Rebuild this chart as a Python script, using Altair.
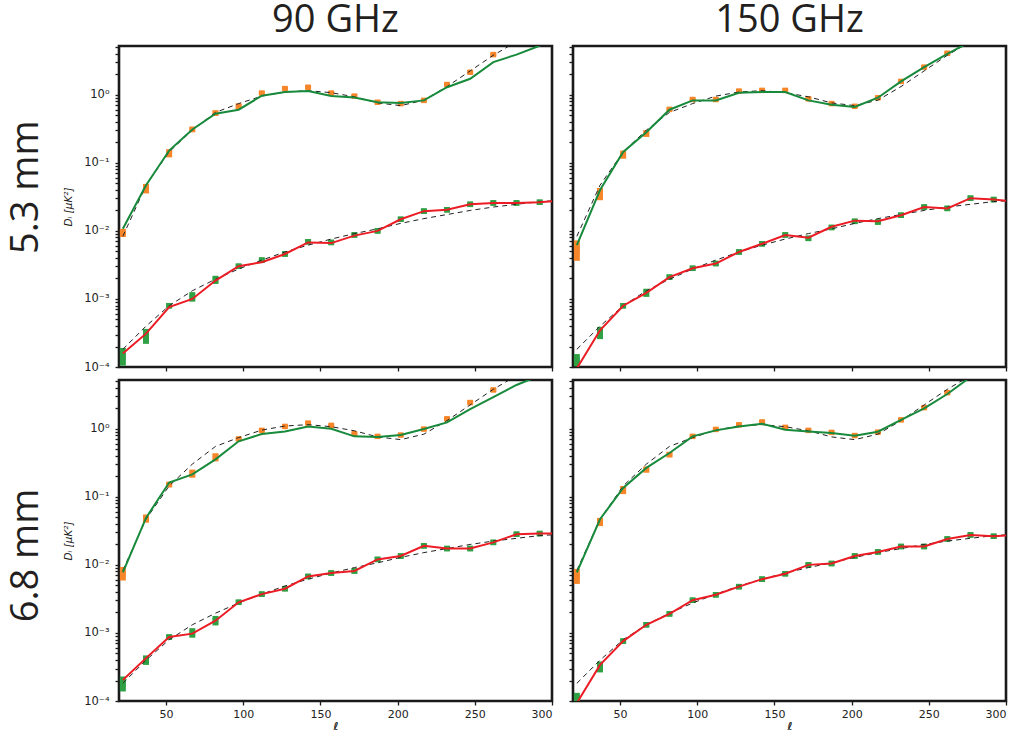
import altair as alt
import pandas as pd

# multipole bin centres
ell = [22, 37, 52, 67, 82, 97, 112, 127, 142, 157, 172, 187, 202, 217, 232, 247, 262, 277, 292]
ell_ext = ell + [307]

col_titles = ["90 GHz", "150 GHz"]
row_titles = ["5.3 mm", "6.8 mm"]

# theory curves (log10 of D_ell), dashed
theory_upper = [-2.08, -1.33, -0.84, -0.52, -0.26, -0.13, -0.02, 0.04, 0.06, 0.03, -0.03, -0.12, -0.16, -0.08, 0.12, 0.35, 0.58, 0.78, 0.98]
theory_lower = [-3.74, -3.4, -3.1, -2.88, -2.71, -2.56, -2.43, -2.31, -2.21, -2.12, -2.04, -1.97, -1.89, -1.82, -1.76, -1.70, -1.65, -1.61, -1.57, -1.55]

# ---- 5.3 mm, 90 GHz
tl_up_pts = [-2.03, -1.38, -0.86, -0.51, -0.27, -0.17, 0.025, 0.09, 0.11, 0.025, -0.02, -0.11, -0.13, -0.083, 0.15, 0.33, 0.59, 0.8, 1.0]
tl_up_err = [0.06, 0.07, 0.06, 0.04, 0.04, 0.04, 0.03, 0.03, 0.03, 0.03, 0.03, 0.03, 0.03, 0.03, 0.03, 0.03, 0.03, 0.03, 0.03]
tl_up_line = [-1.97, -1.33, -0.82, -0.51, -0.28, -0.22, -0.015, 0.04, 0.054, -0.02, -0.04, -0.11, -0.12, -0.083, 0.11, 0.235, 0.48, 0.59, 0.72]
tl_lo_pts = [-3.85, -3.55, -3.1, -2.97, -2.72, -2.52, -2.43, -2.34, -2.16, -2.17, -2.06, -2.0, -1.83, -1.71, -1.69, -1.61, -1.59, -1.59, -1.58]
tl_lo_err = [0.13, 0.11, 0.04, 0.07, 0.06, 0.04, 0.04, 0.04, 0.04, 0.04, 0.04, 0.04, 0.04, 0.04, 0.04, 0.04, 0.04, 0.04, 0.04]
tl_lo_line = [-3.8, -3.51, -3.12, -3.0, -2.73, -2.52, -2.46, -2.34, -2.17, -2.18, -2.07, -2.0, -1.83, -1.71, -1.69, -1.61, -1.59, -1.59, -1.58, -1.55]

# ---- 5.3 mm, 150 GHz
tr_up_pts = [-2.29, -1.46, -0.88, -0.57, -0.215, -0.07, -0.07, 0.054, 0.064, 0.064, -0.06, -0.13, -0.17, -0.044, 0.196, 0.406, 0.61, 0.8, 1.0]
tr_up_err = [0.15, 0.09, 0.06, 0.05, 0.03, 0.03, 0.03, 0.03, 0.03, 0.03, 0.03, 0.03, 0.03, 0.03, 0.03, 0.03, 0.03, 0.03, 0.03]
tr_up_line = [-2.21, -1.40, -0.84, -0.55, -0.22, -0.083, -0.083, 0.03, 0.04, 0.04, -0.083, -0.147, -0.18, -0.044, 0.196, 0.406, 0.6, 0.78, 0.98]
tr_lo_pts = [-3.9, -3.5, -3.1, -2.91, -2.68, -2.55, -2.48, -2.31, -2.19, -2.06, -2.11, -1.95, -1.86, -1.87, -1.77, -1.65, -1.67, -1.52, -1.54]
tr_lo_err = [0.09, 0.09, 0.04, 0.06, 0.04, 0.04, 0.04, 0.04, 0.04, 0.04, 0.04, 0.04, 0.04, 0.04, 0.04, 0.04, 0.04, 0.04, 0.04]
tr_lo_line = [-4.02, -3.46, -3.1, -2.91, -2.68, -2.55, -2.48, -2.31, -2.19, -2.06, -2.1, -1.94, -1.85, -1.86, -1.77, -1.65, -1.67, -1.52, -1.54, -1.57]

# ---- 6.8 mm, 90 GHz
bl_up_pts = [-2.13, -1.32, -0.82, -0.66, -0.42, -0.15, -0.024, 0.034, 0.083, 0.049, -0.073, -0.112, -0.093, -0.005, 0.146, 0.385, 0.57, 0.78, 0.98]
bl_up_err = [0.1, 0.06, 0.04, 0.06, 0.06, 0.03, 0.03, 0.03, 0.03, 0.03, 0.03, 0.03, 0.03, 0.03, 0.03, 0.03, 0.03, 0.03, 0.03]
bl_up_line = [-2.11, -1.31, -0.79, -0.67, -0.45, -0.185, -0.078, -0.04, 0.034, 0.0, -0.112, -0.122, -0.093, -0.005, 0.093, 0.287, 0.463, 0.643, 0.78]
bl_lo_pts = [-3.75, -3.4, -3.06, -3.0, -2.82, -2.55, -2.43, -2.35, -2.17, -2.12, -2.09, -1.92, -1.87, -1.72, -1.76, -1.76, -1.67, -1.55, -1.54]
bl_lo_err = [0.11, 0.07, 0.04, 0.07, 0.07, 0.04, 0.04, 0.04, 0.04, 0.04, 0.04, 0.04, 0.04, 0.04, 0.04, 0.04, 0.04, 0.04, 0.04]
bl_lo_line = [-3.69, -3.37, -3.06, -3.01, -2.82, -2.55, -2.43, -2.35, -2.17, -2.12, -2.09, -1.92, -1.87, -1.72, -1.76, -1.76, -1.67, -1.55, -1.54, -1.54]

# ---- 6.8 mm, 150 GHz
br_up_pts = [-2.17, -1.37, -0.9, -0.6, -0.38, -0.112, -0.01, 0.058, 0.1, 0.02, -0.024, -0.054, -0.1, -0.05, 0.13, 0.31, 0.53, 0.78, 0.98]
br_up_err = [0.11, 0.06, 0.06, 0.045, 0.04, 0.03, 0.03, 0.03, 0.03, 0.03, 0.03, 0.03, 0.03, 0.03, 0.03, 0.03, 0.03, 0.03, 0.03]
br_up_line = [-2.11, -1.33, -0.87, -0.575, -0.356, -0.112, -0.024, 0.034, 0.073, -0.015, -0.04, -0.063, -0.102, -0.044, 0.13, 0.3, 0.51, 0.76, 0.96]
br_lo_pts = [-3.95, -3.5, -3.12, -2.88, -2.72, -2.52, -2.44, -2.32, -2.21, -2.13, -2.0, -1.98, -1.87, -1.81, -1.73, -1.73, -1.62, -1.56, -1.58]
br_lo_err = [0.07, 0.08, 0.04, 0.04, 0.04, 0.04, 0.04, 0.04, 0.04, 0.04, 0.04, 0.04, 0.04, 0.04, 0.04, 0.04, 0.04, 0.04, 0.04]
br_lo_line = [-4.03, -3.47, -3.12, -2.88, -2.72, -2.52, -2.44, -2.32, -2.21, -2.13, -2.0, -1.98, -1.87, -1.81, -1.73, -1.73, -1.62, -1.56, -1.58, -1.56]

panels = {
    "tl": (tl_up_pts, tl_up_err, tl_up_line, tl_lo_pts, tl_lo_err, tl_lo_line),
    "tr": (tr_up_pts, tr_up_err, tr_up_line, tr_lo_pts, tr_lo_err, tr_lo_line),
    "bl": (bl_up_pts, bl_up_err, bl_up_line, bl_lo_pts, bl_lo_err, bl_lo_line),
    "br": (br_up_pts, br_up_err, br_up_line, br_lo_pts, br_lo_err, br_lo_line),
}

ORANGE = "#f7862a"
GREEN_PT = "#2fa144"
GREEN_LN = "#178a3b"
RED = "#ec1c24"
INK = "#1a1a1a"

x_ticks = [50, 100, 150, 200, 250, 300]
y_ticks = [m * 10.0 ** e for e in range(-4, 0) for m in range(1, 10)] + [1, 2, 3, 4, 5]

y_label_expr = (
    "abs(log(datum.value)/LN10 - round(log(datum.value)/LN10)) > 0.01 ? '' : "
    "round(log(datum.value)/LN10) == 0 ? '10⁰' : "
    "round(log(datum.value)/LN10) == -1 ? '10⁻¹' : "
    "round(log(datum.value)/LN10) == -2 ? '10⁻²' : "
    "round(log(datum.value)/LN10) == -3 ? '10⁻³' : '10⁻⁴'"
)


def pts_df(vals, errs):
    return pd.DataFrame({
        "ell": ell,
        "val": [10 ** v for v in vals],
        "lo": [10 ** (v - e) for v, e in zip(vals, errs)],
        "hi": [10 ** (v + e) for v, e in zip(vals, errs)],
    })


def line_df(vals):
    xs = ell_ext[: len(vals)]
    return pd.DataFrame({"ell": xs, "val": [10 ** v for v in vals]})


def panel(key, xlabels, ylabels, title=None):
    up_p, up_e, up_l, lo_p, lo_e, lo_l = panels[key]
    xaxis = alt.Axis(values=x_ticks, labels=xlabels, title="ℓ" if xlabels else None,
                     grid=False, domain=False, ticks=True, tickColor=INK, tickWidth=1.3, tickSize=4,
                     titleFontStyle="italic", titleFontSize=11, titlePadding=1,
                     labelFontSize=11, labelPadding=3, labelColor="#222222", titleColor="#222222",
                     labelFont="DejaVu Sans", titleFont="DejaVu Sans")
    yaxis = alt.Axis(values=y_ticks, labels=ylabels, labelExpr=y_label_expr,
                     title="Dₗ [μK²]" if ylabels else None,
                     grid=False, domain=False, ticks=True, tickColor=INK, tickWidth=1.3, tickSize=4,
                     titleFontStyle="italic", titleFontSize=10.5, titleFontWeight="normal",
                     titlePadding=10, labelFontSize=11.5, labelPadding=6,
                     labelColor="#222222", titleColor="#222222",
                     labelFont="DejaVu Sans", titleFont="DejaVu Sans")
    xs = alt.Scale(domain=[19.5, 300], nice=False, zero=False)
    ys = alt.Scale(type="log", domain=[1e-4, 5.2], nice=False)

    def X():
        return alt.X("ell:Q", scale=xs, axis=xaxis)

    def Y(f="val:Q"):
        return alt.Y(f, scale=ys, axis=yaxis)

    layers = []
    for vals, errs, col in ((up_p, up_e, ORANGE), (lo_p, lo_e, GREEN_PT)):
        d = pts_df(vals, errs)
        layers.append(alt.Chart(d).mark_rule(color=col, strokeWidth=6, clip=True)
                      .encode(x=X(), y=Y("lo:Q"), y2="hi:Q"))
        layers.append(alt.Chart(d).mark_square(color=col, size=30, opacity=1, clip=True)
                      .encode(x=X(), y=Y()))
    for vals in (theory_upper, theory_lower):
        layers.append(alt.Chart(line_df(vals)).mark_line(color="#222222", strokeWidth=1,
                                                         strokeDash=[5, 4], clip=True)
                      .encode(x=X(), y=Y()))
    layers.append(alt.Chart(line_df(up_l)).mark_line(color=GREEN_LN, strokeWidth=2, clip=True)
                  .encode(x=X(), y=Y()))
    layers.append(alt.Chart(line_df(lo_l)).mark_line(color=RED, strokeWidth=2, clip=True)
                  .encode(x=X(), y=Y()))
    ch = alt.layer(*layers).properties(
        width=433, height=321,
        view=alt.ViewBackground(stroke=INK, strokeWidth=2.6, fill="white"))
    if title:
        ch = ch.properties(title=alt.TitleParams(title, font="Open Sans", fontSize=38,
                                                 fontWeight="normal", color="#231f20",
                                                 anchor="middle", offset=4, dy=-2))
    return ch


row1 = alt.hconcat(panel("tl", False, True, col_titles[0]), panel("tr", False, False, col_titles[1]),
                   spacing=13).properties(
    title=alt.TitleParams(row_titles[0], orient="left", anchor="middle", font="Open Sans",
                          fontSize=38, fontWeight="normal", color="#231f20", offset=16))
row2 = alt.hconcat(panel("bl", True, True), panel("br", True, False), spacing=13).properties(
    title=alt.TitleParams(row_titles[1], orient="left", anchor="middle", font="Open Sans",
                          fontSize=38, fontWeight="normal", color="#231f20", offset=16))

chart = alt.vconcat(row1, row2, spacing=4).properties(
    padding={"left": 8, "top": 0, "right": 5, "bottom": 5}
).configure_view(stroke=INK, strokeWidth=2.6).configure(background="white")

chart.save("out.html", embed_options={"renderer": "svg", "actions": False})
